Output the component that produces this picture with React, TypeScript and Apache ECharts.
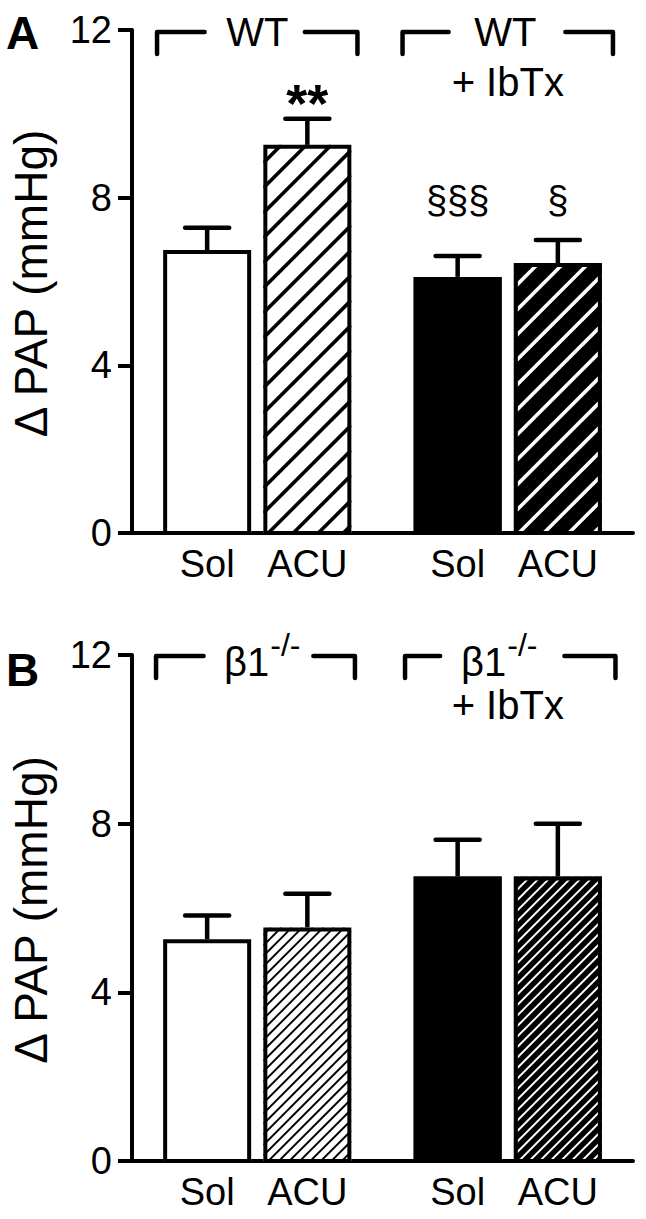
import React, { useEffect, useRef } from "react";
import * as echarts from "echarts";

const FONT = '"Liberation Sans", Arial, Helvetica, sans-serif';

// ---------- data ----------
const categories = ["Sol", "ACU", "Sol", "ACU"];
const panelAMeans = [6.75, 9.26, 6.11, 6.44];
const panelASem = [0.53, 0.62, 0.5, 0.55];
const panelBMeans = [5.26, 5.54, 6.75, 6.75];
const panelBSem = [0.56, 0.8, 0.87, 1.25];
const panelAMarks = ["", "**", "§§§", "§"];
const panelBMarks = ["", "", "", ""];
const yTickValues = [0, 4, 8, 12];
const panelAGroups = ["WT", "WT"];
const panelAGroupSup = ["", ""];
const panelAGroupSub = ["", "+ IbTx"];
const panelBGroups = ["β1", "β1"];
const panelBGroupSup = ["-/-", "-/-"];
const panelBGroupSub = ["", "+ IbTx"];
const yAxisTitle = "Δ PAP (mmHg)";
const panelLetters = ["A", "B"];

// ---------- layout (not data) ----------
const SLOT_X = [1.5, 3.5, 6.5, 8.5];
const X_MAX = 10;
const BAR_W = 88;
const BORDER = 4;
const BAR_FILL = ["#ffffff", "#ffffff", "#000000", "#000000"];
const HATCH_COLOR = [null, "#000000", null, "#ffffff"];
const GRIDS = [
  { left: 130, top: 30, width: 503, height: 503 },
  { left: 130, top: 655, width: 503, height: 506 },
];
const HATCH = [
  { period: 25, width: 3.6 },
  { period: 10.5, width: 1.9 },
];
const MARK_LEVEL_A = [0, 10.25, 7.95, 7.95];
const MARK_LEVEL_B = [0, 0, 0, 0];
const SPANS_A = [
  [0.5, 1.45, 3.45, 4.5],
  [5.4, 6.32, 8.65, 9.6],
];
const SPANS_B = [
  [0.48, 1.43, 3.62, 4.45],
  [5.45, 6.15, 8.63, 9.65],
];
const TEXT_X_A = [2.5, 7.45];
const TEXT_X_B = [2.74, 7.47];
const SUB_X = [2.5, 7.5];
const LETTER_TOP = [10, 647];

const panels = [
  {
    means: panelAMeans,
    sem: panelASem,
    marks: panelAMarks,
    markLevel: MARK_LEVEL_A,
    groups: panelAGroups,
    sup: panelAGroupSup,
    sub: panelAGroupSub,
    spans: SPANS_A,
    textX: TEXT_X_A,
    bracketDy: 2,
    line1Dy: 0,
    line2Dy: 50,
    supMode: false,
  },
  {
    means: panelBMeans,
    sem: panelBSem,
    marks: panelBMarks,
    markLevel: MARK_LEVEL_B,
    groups: panelBGroups,
    sup: panelBGroupSup,
    sub: panelBGroupSub,
    spans: SPANS_B,
    textX: TEXT_X_B,
    bracketDy: 1,
    line1Dy: 6,
    line2Dy: 49,
    supMode: true,
  },
];

function txt(text: string, x: number, y: number, size: number, align: string, weight = "normal") {
  return {
    type: "text",
    x,
    y,
    style: {
      text,
      font: `${weight} ${size}px ${FONT}`,
      fontSize: size,
      fontFamily: FONT,
      fontWeight: weight,
      lineHeight: Math.round(size * 0.82),
      fill: "#000",
      textFill: "#000",
      align,
      textAlign: align,
      verticalAlign: "middle",
      textVerticalAlign: "middle",
    },
  };
}

function buildOption() {
  const grid: any[] = [];
  const xAxis: any[] = [];
  const yAxis: any[] = [];
  const series: any[] = [];

  panels.forEach((p, pi) => {
    grid.push({ ...GRIDS[pi], containLabel: false });
    xAxis.push({
      type: "value",
      gridIndex: pi,
      min: 0,
      max: X_MAX,
      axisLine: { show: true, lineStyle: { color: "#000", width: 4 } },
      axisTick: { show: false },
      splitLine: { show: false },
      axisLabel: {
        show: true,
        customValues: SLOT_X,
        formatter: (v: number) => {
          const idx = SLOT_X.findIndex((s) => Math.abs(s - v) < 1e-6);
          return idx >= 0 ? categories[idx] : "";
        },
        color: "#000",
        fontSize: 38,
        fontFamily: FONT,
        margin: 12,
      },
    });
    yAxis.push({
      type: "value",
      gridIndex: pi,
      min: yTickValues[0],
      max: yTickValues[yTickValues.length - 1],
      interval: yTickValues[1] - yTickValues[0],
      axisLine: { show: true, lineStyle: { color: "#000", width: 4 } },
      axisTick: { show: true, length: 14, lineStyle: { color: "#000", width: 4 } },
      splitLine: { show: false },
      axisLabel: { color: "#000", fontSize: 38, fontFamily: FONT, margin: 20 },
      name: yAxisTitle,
      nameLocation: "middle",
      nameRotate: 90,
      nameGap: 78,
      nameTextStyle: { color: "#000", fontSize: 46, fontFamily: FONT, padding: [0, 4, 0, 0] },
    });

    const hatch = HATCH[pi];

    // bars
    series.push({
      type: "custom",
      xAxisIndex: pi,
      yAxisIndex: pi,
      silent: true,
      z: 2,
      data: p.means.map((v, i) => [SLOT_X[i], v]),
      renderItem: (params: any, api: any) => {
        const i = params.dataIndex;
        const top = api.coord([api.value(0), api.value(1)]);
        const base = api.coord([api.value(0), 0]);
        const cx = top[0];
        const x0 = cx - BAR_W / 2;
        const x1 = cx + BAR_W / 2;
        const y0 = top[1];
        const y1 = base[1];
        const children: any[] = [
          { type: "rect", shape: { x: x0, y: y0, width: BAR_W, height: y1 - y0 }, style: { fill: BAR_FILL[i] } },
        ];
        const hc = HATCH_COLOR[i];
        if (hc) {
          const lines: any[] = [];
          const a = x0 + 5 + y1;
          const cMin = x0 + y0;
          const cMax = x1 + y1;
          const kMin = Math.ceil((cMin - a) / hatch.period);
          const kMax = Math.floor((cMax - a) / hatch.period);
          for (let k = kMin; k <= kMax; k++) {
            const c = a + k * hatch.period;
            const xa = Math.max(x0, c - y1);
            const xb = Math.min(x1, c - y0);
            if (xb > xa) {
              lines.push({
                type: "line",
                shape: { x1: xa, y1: c - xa, x2: xb, y2: c - xb },
                style: { stroke: hc, lineWidth: hatch.width },
              });
            }
          }
          children.push({
            type: "group",
            children: lines,
            clipPath: { type: "rect", shape: { x: x0, y: y0, width: BAR_W, height: y1 - y0 } },
          });
        }
        children.push({
          type: "rect",
          shape: {
            x: x0 + BORDER / 2,
            y: y0 + BORDER / 2,
            width: BAR_W - BORDER,
            height: y1 - y0 - BORDER / 2,
          },
          style: { fill: "none", stroke: "#000", lineWidth: BORDER },
        });
        return { type: "group", children };
      },
    });

    // error bars (upper SEM)
    series.push({
      type: "custom",
      xAxisIndex: pi,
      yAxisIndex: pi,
      silent: true,
      z: 3,
      data: p.means.map((v, i) => [SLOT_X[i], v, v + p.sem[i]]),
      renderItem: (params: any, api: any) => {
        const t = api.coord([api.value(0), api.value(1)]);
        const e = api.coord([api.value(0), api.value(2)]);
        return {
          type: "group",
          children: [
            {
              type: "line",
              shape: { x1: t[0], y1: t[1], x2: e[0], y2: e[1] },
              style: { stroke: "#000", lineWidth: 4.5 },
            },
            {
              type: "line",
              shape: { x1: e[0] - 22, y1: e[1], x2: e[0] + 22, y2: e[1] },
              style: { stroke: "#000", lineWidth: 4.5, lineCap: "round" },
            },
          ],
        };
      },
    });

    // significance marks
    series.push({
      type: "custom",
      xAxisIndex: pi,
      yAxisIndex: pi,
      silent: true,
      z: 4,
      data: p.marks.map((m, i) => [SLOT_X[i], p.markLevel[i]]),
      renderItem: (params: any, api: any) => {
        const i = params.dataIndex;
        const m = p.marks[i];
        if (!m) return { type: "group", children: [] };
        const c = api.coord([api.value(0), api.value(1)]);
        const star = m.indexOf("*") >= 0;
        return txt(m, c[0], c[1], star ? 54 : 38, "center", star ? "bold" : "normal");
      },
    });

    // group headers with brackets
    series.push({
      type: "custom",
      xAxisIndex: pi,
      yAxisIndex: pi,
      silent: true,
      z: 4,
      data: p.groups.map((g, i) => [SUB_X[i], 12]),
      renderItem: (params: any, api: any) => {
        const i = params.dataIndex;
        const sp = p.spans[i];
        const yT = api.coord([0, 12])[1] + p.bracketDy;
        const yB = yT + 22;
        const px = sp.map((v: number) => api.coord([v, 12])[0]);
        const ls = { stroke: "#000", lineWidth: 4.5, fill: null, lineCap: "round", lineJoin: "round" };
        const children: any[] = [
          { type: "polyline", shape: { points: [[px[0], yB], [px[0], yT], [px[1], yT]] }, style: ls },
          { type: "polyline", shape: { points: [[px[2], yT], [px[3], yT], [px[3], yB]] }, style: ls },
        ];
        const tx = api.coord([p.textX[i], 12])[0];
        if (p.supMode) {
          children.push(txt(p.groups[i], tx, yT + p.line1Dy, 40, "right"));
          children.push(txt(p.sup[i], tx + 1, yT - 11, 32, "left"));
        } else {
          children.push(txt(p.groups[i], tx, yT + p.line1Dy, 40, "center"));
        }
        if (p.sub[i]) {
          const sx = api.coord([SUB_X[i], 12])[0];
          children.push(txt(p.sub[i], sx, yT + p.line2Dy, 40, "center"));
        }
        return { type: "group", children };
      },
    });
  });

  const graphic = panelLetters.map((l, i) => ({
    type: "text",
    left: 6,
    top: LETTER_TOP[i],
    style: {
      text: l,
      fontSize: 46,
      fontWeight: "bold",
      fontFamily: FONT,
      font: `bold 46px ${FONT}`,
      fill: "#000",
    },
  }));

  return {
    animation: false,
    backgroundColor: "#ffffff",
    grid,
    xAxis,
    yAxis,
    series,
    graphic,
  };
}

export default function App() {
  const ref = useRef<HTMLDivElement>(null);
  useEffect(() => {
    if (!ref.current) return;
    const chart = echarts.init(ref.current, null, { renderer: "svg" });
    chart.setOption(buildOption() as any);
    return () => chart.dispose();
  }, []);
  return (
    <div
      ref={ref}
      style={{ position: "absolute", left: 0, top: 0, width: 646, height: 1219, background: "#fff" }}
    />
  );
}
